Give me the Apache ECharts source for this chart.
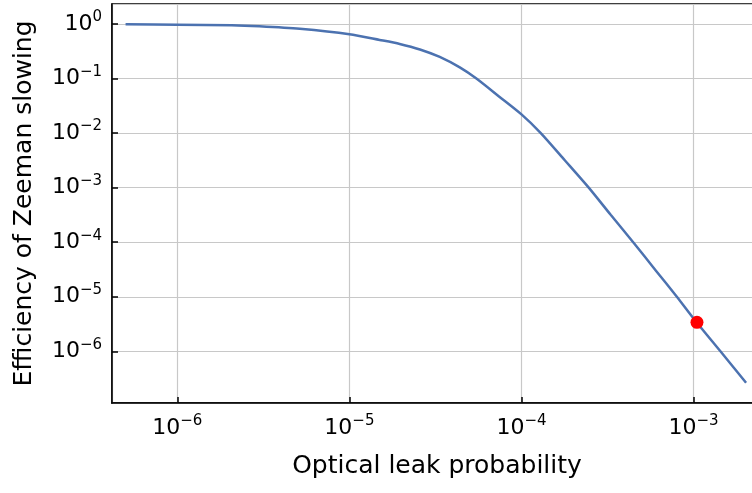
<!DOCTYPE html>
<html><head><meta charset="utf-8">
<script src="https://cdn.jsdelivr.net/npm/echarts@6/dist/echarts.min.js"></script>
<style>html,body{margin:0;padding:0;background:#fff}#c{width:752px;height:493px}</style>
</head><body><div id="c"></div>
<script>
// Data (log-log)
const leakProbability = [5e-7, 1e-6, 2.07e-6, 3e-6, 5.15e-6, 1e-5, 1.5e-5, 1.96e-5, 2.57e-5, 3.35e-5, 4.38e-5, 5.47e-5, 7.4e-5, 1e-4, 1.295e-4, 1.785e-4, 2.46e-4, 3.3e-4, 4.46e-4, 6.03e-4, 8.0e-4, 1e-3, 1.433e-3, 2.02e-3];
const efficiency = [0.987, 0.971, 0.947, 0.905, 0.813, 0.648, 0.509, 0.43, 0.341, 0.249, 0.16, 0.10, 0.047, 0.022, 0.01, 3.18e-3, 1e-3, 3.18e-4, 1e-4, 3.04e-5, 1e-5, 4.0e-6, 1e-6, 2.66e-7];
const markedPoint = [1.047e-3, 3.4e-6];
const xTickExponents = [-6, -5, -4, -3];
const yTickExponents = [0, -1, -2, -3, -4, -5, -6];
const xTitle = 'Optical leak probability';
const yTitle = 'Efficiency of Zeeman slowing';

const FONT = 'DejaVu Sans';
function powLabel(v) {
  const e = Math.round(Math.log10(v));
  const s = e < 0 ? '\u2212' + Math.abs(e) : String(e);
  return '{b|10}{s|' + s + '}';
}
function tickFormatter(exps) {
  return v => {
    const l = Math.log10(v), e = Math.round(l);
    return exps.includes(e) && Math.abs(l - e) < 1e-6 ? powLabel(v) : '';
  };
}
const richLab = {
  b: {fontSize: 22, fontFamily: FONT, color: '#000', lineHeight: 28},
  s: {fontSize: 15, fontFamily: FONT, color: '#000', verticalAlign: 'top', lineHeight: 17}
};

const chart = echarts.init(document.getElementById('c'), null, {renderer: 'canvas'});
chart.setOption({
  animation: false,
  backgroundColor: '#fff',
  grid: {left: 112, right: -10, top: 4, bottom: 90, outerBoundsMode: 'none', containLabel: false,
         show: true, borderColor: '#000', borderWidth: 1.5, backgroundColor: 'transparent'},
  xAxis: {
    type: 'log', logBase: 10, min: 4.17e-7, max: 2.5e-3,
    name: xTitle, nameLocation: 'middle', nameGap: 51,
    nameTextStyle: {fontSize: 25, fontFamily: FONT, color: '#000'},
    axisLine: {show: true, lineStyle: {color: '#000', width: 1.5}},
    axisTick: {show: true, inside: true, length: 6, lineStyle: {color: '#000', width: 1.5}},
    minorTick: {show: false},
    splitLine: {show: true, lineStyle: {color: '#c8c8c8', width: 1.2}},
    axisLabel: {interval: 0, margin: 11, showMinLabel: false, showMaxLabel: false,
      formatter: tickFormatter(xTickExponents), rich: richLab}
  },
  yAxis: {
    type: 'log', logBase: 10, min: 1.13e-7, max: 2.32,
    name: yTitle, nameLocation: 'middle', nameGap: 75, nameRotate: 90,
    nameTextStyle: {fontSize: 25, fontFamily: FONT, color: '#000'},
    axisLine: {show: true, lineStyle: {color: '#000', width: 1.5}},
    axisTick: {show: true, inside: true, length: 6, lineStyle: {color: '#000', width: 1.5}},
    minorTick: {show: false},
    splitLine: {show: true, lineStyle: {color: '#c8c8c8', width: 1.2}},
    axisLabel: {interval: 0, margin: 10, showMinLabel: false, showMaxLabel: false,
      formatter: tickFormatter(yTickExponents), rich: richLab}
  },
  series: [
    {type: 'line', data: leakProbability.map((x, i) => [x, efficiency[i]]),
     showSymbol: false, smooth: 0.25,
     lineStyle: {color: '#4c72b0', width: 2.5}, z: 2},
    {type: 'scatter', data: [markedPoint], symbol: 'circle', symbolSize: 13,
     itemStyle: {color: '#ff0000', opacity: 1}, z: 3}
  ]
});
</script></body></html>
